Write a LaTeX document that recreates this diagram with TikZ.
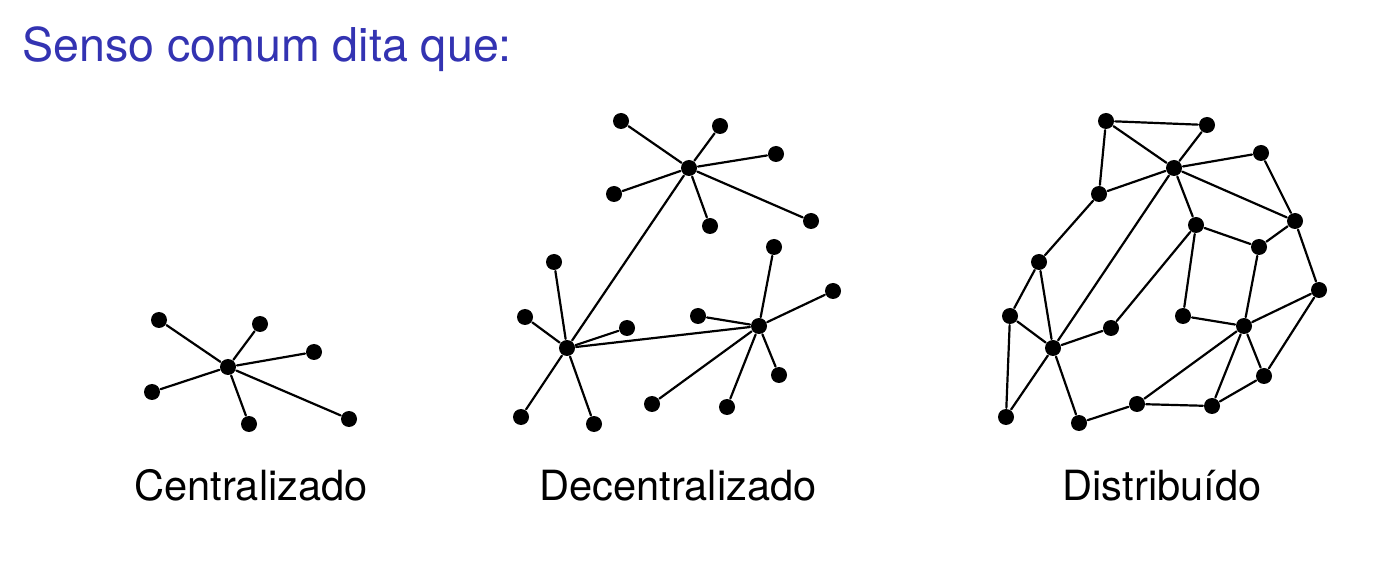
\documentclass[tikz,border=0pt]{standalone}
\usepackage{fontspec}
\setmainfont{TeX Gyre Heros}
\definecolor{struct}{RGB}{51,51,178}
\tikzset{dot/.style={circle, fill=black, inner sep=0pt, minimum size=8pt},
 lbl/.style={anchor=base, inner sep=0pt, font=\fontsize{20.8}{24}\selectfont}}
\begin{document}
\begin{tikzpicture}[x=0.5pt, y=-0.5pt, line width=1.1pt, line cap=round, line join=round]
 \useasboundingbox (0,0) rectangle (1377,577);
 \node[anchor=base west, inner sep=0pt, text=struct, font=\fontsize{23.3}{28}\selectfont] (title) at (21,62) {Senso comum dita que:};
 % centralizado
 \node[dot] (c0) at (228,367) {};
 \foreach \x/\y [count=\i] in {159/320, 260/324, 314/352, 152/392, 249/424, 349/419}{
 \node[dot] (c\i) at (\x,\y) {};
 \draw (c0) -- (c\i);}
 % decentralizado
 \node[dot] (ha) at (689,168) {};
 \node[dot] (hb) at (567,348) {};
 \node[dot] (hc) at (759,326) {};
 \foreach \x/\y [count=\i] in {621/121, 720/126, 776/154, 614/194, 710/226, 811/221}{
 \node[dot] (a\i) at (\x,\y) {};
 \draw (ha) -- (a\i);}
 \foreach \x/\y [count=\i] in {554/262, 525/317, 627/328, 521/417, 594/424}{
 \node[dot] (b\i) at (\x,\y) {};
 \draw (hb) -- (b\i);}
 \foreach \x/\y [count=\i] in {774/247, 833/291, 698/316, 779/375, 652/404, 727/407}{
 \node[dot] (c\i) at (\x,\y) {};
 \draw (hc) -- (c\i);}
 \draw (ha) -- (hb) -- (hc);
 % distribuido
 \foreach \x/\y [count=\i] in {1106/121, 1207/125, 1174/168, 1261/153, 1099/194,
 1295/221, 1196/225, 1259/247, 1039/262, 1319/290, 1010/316, 1183/316, 1111/328,
 1244/326, 1053/348, 1264/376, 1137/404, 1212/406, 1006/417, 1079/423}{
 \node[dot] (d\i) at (\x,\y) {};}
 \foreach \a/\b in {1/2, 1/3, 2/3, 1/5, 5/3, 3/4, 3/6, 3/7, 3/15, 4/6, 5/9, 9/11,
 9/15, 11/15, 11/19, 15/19, 15/13, 15/20, 13/7, 7/12, 7/8, 8/6, 8/14, 6/10, 12/14,
 14/10, 14/17, 14/18, 14/16, 10/16, 16/18, 18/17, 17/20}{
 \draw (d\a) -- (d\b);}
 \node[lbl] (lc) at (251,500) {Centralizado};
 \node[lbl] (ld) at (678,500) {Decentralizado};
 \node[lbl] (ldi) at (1162,500) {Distribuído};
\end{tikzpicture}
\end{document}
